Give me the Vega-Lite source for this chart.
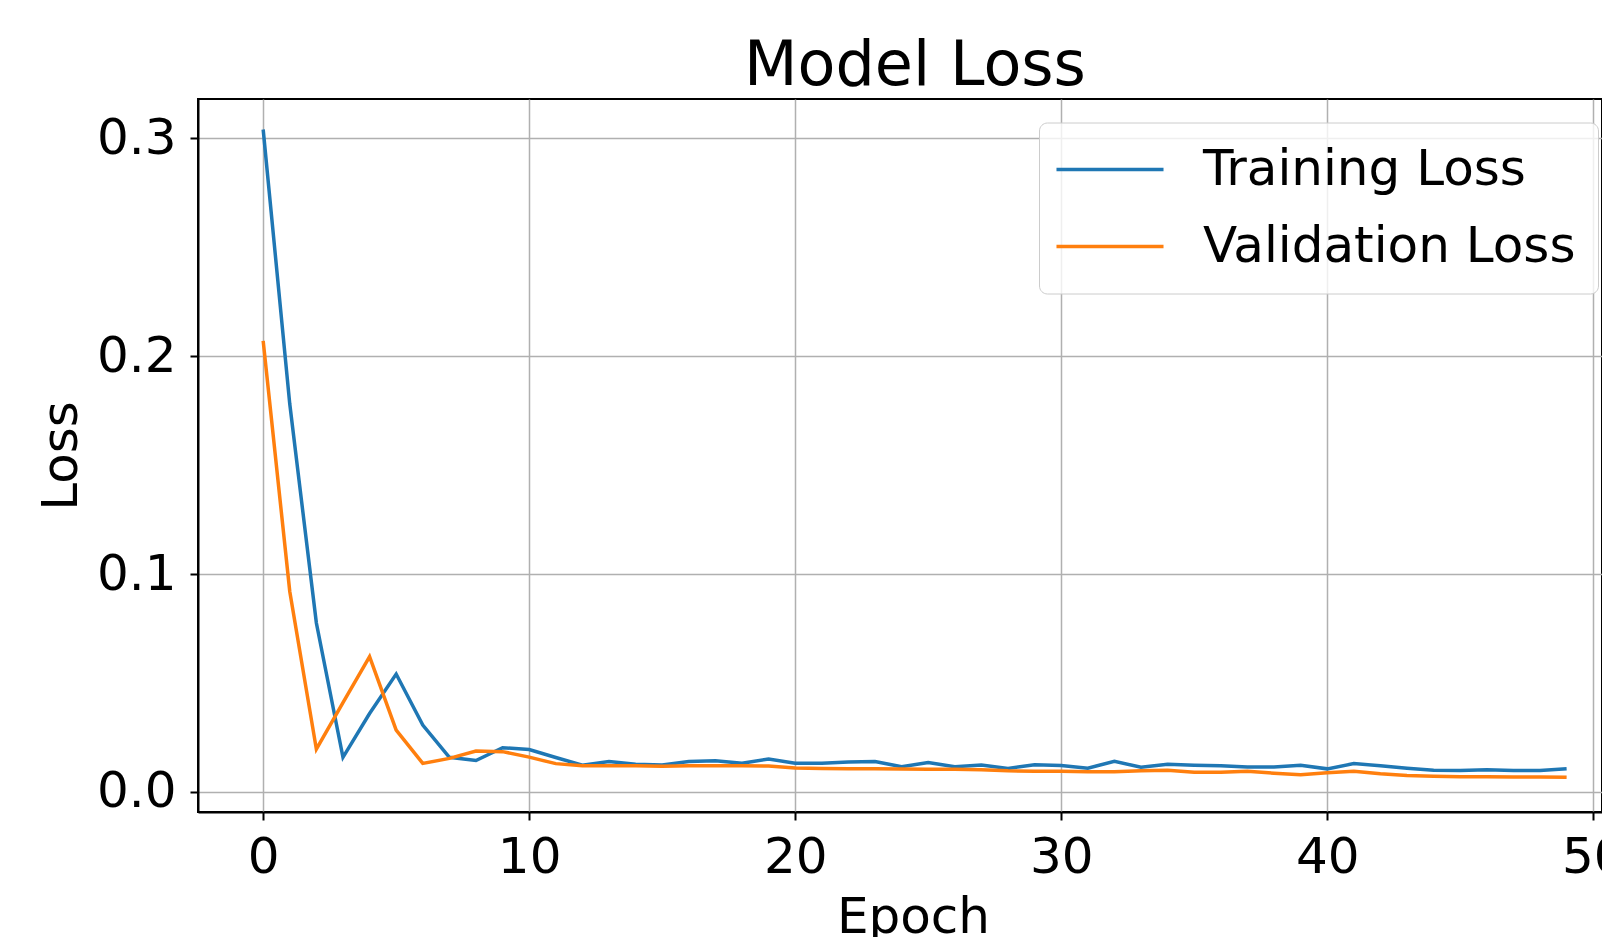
{
  "$schema": "https://vega.github.io/schema/vega-lite/v6.json",
  "autosize": {"type": "none"},
  "padding": {"left": 198, "top": 99, "right": 0, "bottom": 125},
  "width": 1404,
  "height": 713,
  "background": "white",
  "title": {"text": "Model Loss", "fontSize": 62, "font": "DejaVu Sans", "fontWeight": "normal", "color": "black", "anchor": "middle", "dx": 15, "baseline": "alphabetic", "offset": -48},
  "config": {
    "font": "DejaVu Sans",
    "view": {"stroke": "black", "strokeWidth": 2},
    "axis": {
      "labelFont": "DejaVu Sans", "labelFontSize": 50, "labelColor": "black",
      "titleFont": "DejaVu Sans", "titleFontSize": 50, "titleFontWeight": "normal", "titleColor": "black",
      "tickColor": "black", "tickWidth": 2, "tickSize": 8,
      "domainColor": "black", "domainWidth": 2,
      "gridColor": "#b0b0b0", "gridWidth": 1.5, "gridOpacity": 1
    }
  },
  "data": {"values": [
    {"epoch": 0, "series": "Training Loss", "loss": 0.304},
    {"epoch": 1, "series": "Training Loss", "loss": 0.178},
    {"epoch": 2, "series": "Training Loss", "loss": 0.0775},
    {"epoch": 3, "series": "Training Loss", "loss": 0.0159},
    {"epoch": 4, "series": "Training Loss", "loss": 0.036},
    {"epoch": 5, "series": "Training Loss", "loss": 0.0541},
    {"epoch": 6, "series": "Training Loss", "loss": 0.0307},
    {"epoch": 7, "series": "Training Loss", "loss": 0.0159},
    {"epoch": 8, "series": "Training Loss", "loss": 0.0144},
    {"epoch": 9, "series": "Training Loss", "loss": 0.0203},
    {"epoch": 10, "series": "Training Loss", "loss": 0.0195},
    {"epoch": 11, "series": "Training Loss", "loss": 0.0158},
    {"epoch": 12, "series": "Training Loss", "loss": 0.0123},
    {"epoch": 13, "series": "Training Loss", "loss": 0.014},
    {"epoch": 14, "series": "Training Loss", "loss": 0.0127},
    {"epoch": 15, "series": "Training Loss", "loss": 0.0124},
    {"epoch": 16, "series": "Training Loss", "loss": 0.014},
    {"epoch": 17, "series": "Training Loss", "loss": 0.0143},
    {"epoch": 18, "series": "Training Loss", "loss": 0.0132},
    {"epoch": 19, "series": "Training Loss", "loss": 0.0151},
    {"epoch": 20, "series": "Training Loss", "loss": 0.0132},
    {"epoch": 21, "series": "Training Loss", "loss": 0.0132},
    {"epoch": 22, "series": "Training Loss", "loss": 0.0137},
    {"epoch": 23, "series": "Training Loss", "loss": 0.014},
    {"epoch": 24, "series": "Training Loss", "loss": 0.0116},
    {"epoch": 25, "series": "Training Loss", "loss": 0.0135},
    {"epoch": 26, "series": "Training Loss", "loss": 0.0116},
    {"epoch": 27, "series": "Training Loss", "loss": 0.0124},
    {"epoch": 28, "series": "Training Loss", "loss": 0.0108},
    {"epoch": 29, "series": "Training Loss", "loss": 0.0125},
    {"epoch": 30, "series": "Training Loss", "loss": 0.0121},
    {"epoch": 31, "series": "Training Loss", "loss": 0.0109},
    {"epoch": 32, "series": "Training Loss", "loss": 0.0141},
    {"epoch": 33, "series": "Training Loss", "loss": 0.0113},
    {"epoch": 34, "series": "Training Loss", "loss": 0.0127},
    {"epoch": 35, "series": "Training Loss", "loss": 0.0123},
    {"epoch": 36, "series": "Training Loss", "loss": 0.012},
    {"epoch": 37, "series": "Training Loss", "loss": 0.0114},
    {"epoch": 38, "series": "Training Loss", "loss": 0.0114},
    {"epoch": 39, "series": "Training Loss", "loss": 0.0123},
    {"epoch": 40, "series": "Training Loss", "loss": 0.0106},
    {"epoch": 41, "series": "Training Loss", "loss": 0.013},
    {"epoch": 42, "series": "Training Loss", "loss": 0.012},
    {"epoch": 43, "series": "Training Loss", "loss": 0.0109},
    {"epoch": 44, "series": "Training Loss", "loss": 0.01},
    {"epoch": 45, "series": "Training Loss", "loss": 0.0099},
    {"epoch": 46, "series": "Training Loss", "loss": 0.0102},
    {"epoch": 47, "series": "Training Loss", "loss": 0.0099},
    {"epoch": 48, "series": "Training Loss", "loss": 0.0099},
    {"epoch": 49, "series": "Training Loss", "loss": 0.0107},
    {"epoch": 0, "series": "Validation Loss", "loss": 0.207},
    {"epoch": 1, "series": "Validation Loss", "loss": 0.092},
    {"epoch": 2, "series": "Validation Loss", "loss": 0.0196},
    {"epoch": 3, "series": "Validation Loss", "loss": 0.041},
    {"epoch": 4, "series": "Validation Loss", "loss": 0.0621},
    {"epoch": 5, "series": "Validation Loss", "loss": 0.0284},
    {"epoch": 6, "series": "Validation Loss", "loss": 0.0131},
    {"epoch": 7, "series": "Validation Loss", "loss": 0.0154},
    {"epoch": 8, "series": "Validation Loss", "loss": 0.0188},
    {"epoch": 9, "series": "Validation Loss", "loss": 0.0185},
    {"epoch": 10, "series": "Validation Loss", "loss": 0.016},
    {"epoch": 11, "series": "Validation Loss", "loss": 0.013},
    {"epoch": 12, "series": "Validation Loss", "loss": 0.012},
    {"epoch": 13, "series": "Validation Loss", "loss": 0.012},
    {"epoch": 14, "series": "Validation Loss", "loss": 0.012},
    {"epoch": 15, "series": "Validation Loss", "loss": 0.0118},
    {"epoch": 16, "series": "Validation Loss", "loss": 0.012},
    {"epoch": 17, "series": "Validation Loss", "loss": 0.012},
    {"epoch": 18, "series": "Validation Loss", "loss": 0.012},
    {"epoch": 19, "series": "Validation Loss", "loss": 0.0119},
    {"epoch": 20, "series": "Validation Loss", "loss": 0.011},
    {"epoch": 21, "series": "Validation Loss", "loss": 0.0108},
    {"epoch": 22, "series": "Validation Loss", "loss": 0.0106},
    {"epoch": 23, "series": "Validation Loss", "loss": 0.0106},
    {"epoch": 24, "series": "Validation Loss", "loss": 0.0105},
    {"epoch": 25, "series": "Validation Loss", "loss": 0.0104},
    {"epoch": 26, "series": "Validation Loss", "loss": 0.0104},
    {"epoch": 27, "series": "Validation Loss", "loss": 0.0102},
    {"epoch": 28, "series": "Validation Loss", "loss": 0.0097},
    {"epoch": 29, "series": "Validation Loss", "loss": 0.0095},
    {"epoch": 30, "series": "Validation Loss", "loss": 0.0095},
    {"epoch": 31, "series": "Validation Loss", "loss": 0.0093},
    {"epoch": 32, "series": "Validation Loss", "loss": 0.0093},
    {"epoch": 33, "series": "Validation Loss", "loss": 0.0097},
    {"epoch": 34, "series": "Validation Loss", "loss": 0.01},
    {"epoch": 35, "series": "Validation Loss", "loss": 0.009},
    {"epoch": 36, "series": "Validation Loss", "loss": 0.009},
    {"epoch": 37, "series": "Validation Loss", "loss": 0.0095},
    {"epoch": 38, "series": "Validation Loss", "loss": 0.0086},
    {"epoch": 39, "series": "Validation Loss", "loss": 0.0079},
    {"epoch": 40, "series": "Validation Loss", "loss": 0.0088},
    {"epoch": 41, "series": "Validation Loss", "loss": 0.0095},
    {"epoch": 42, "series": "Validation Loss", "loss": 0.0083},
    {"epoch": 43, "series": "Validation Loss", "loss": 0.0075},
    {"epoch": 44, "series": "Validation Loss", "loss": 0.0072},
    {"epoch": 45, "series": "Validation Loss", "loss": 0.007},
    {"epoch": 46, "series": "Validation Loss", "loss": 0.007},
    {"epoch": 47, "series": "Validation Loss", "loss": 0.0069},
    {"epoch": 48, "series": "Validation Loss", "loss": 0.0069},
    {"epoch": 49, "series": "Validation Loss", "loss": 0.0067}
  ]},
  "mark": {"type": "line", "strokeWidth": 3.5, "clip": true},
  "encoding": {
    "x": {"field": "epoch", "type": "quantitative", "title": "Epoch",
      "scale": {"domain": [-2.45, 50.33], "nice": false, "zero": false},
      "axis": {"values": [0, 10, 20, 30, 40, 50], "labelPadding": 12, "titlePadding": 10, "titleX": 715, "labelFlush": false, "labelOverlap": false}},
    "y": {"field": "loss", "type": "quantitative", "title": "Loss",
      "scale": {"domain": [-0.0092, 0.318], "nice": false, "zero": false},
      "axis": {"values": [0, 0.1, 0.2, 0.3], "format": ".1f", "labelPadding": 14, "titlePadding": 10, "labelFlush": false}},
    "color": {"field": "series", "type": "nominal",
      "scale": {"domain": ["Training Loss", "Validation Loss"], "range": ["#1f77b4", "#ff7f0e"]},
      "legend": {"title": null, "orient": "none", "legendX": 841, "legendY": 23.5,
        "labelFont": "DejaVu Sans", "labelFontSize": 50, "labelColor": "black", "labelLimit": 0,
        "symbolType": "M-4,0H4", "symbolSize": 716, "symbolStrokeWidth": 3.5, "symbolOffset": 24,
        "labelOffset": 68, "rowPadding": 27, "padding": 22,
        "fillColor": "rgba(255,255,255,0.8)", "strokeColor": "#cccccc", "cornerRadius": 8}}
  }
}
